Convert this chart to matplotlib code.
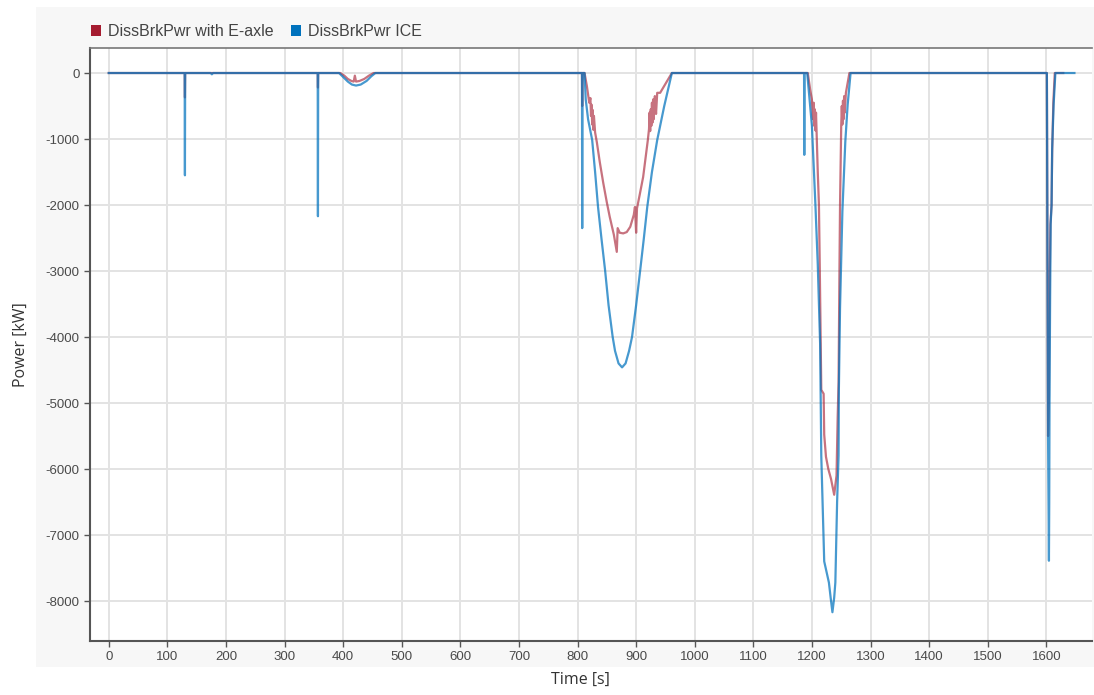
import matplotlib.pyplot as plt
from matplotlib.patches import Patch, Rectangle
from matplotlib.ticker import FuncFormatter

# Dissipated braking power, E-axle variant (time [s], power [kW])
eaxle_t = [0, 129.6, 130, 130.4, 356.6, 357, 357.4,
           395, 402, 408, 414, 418, 420, 422, 428, 436, 444, 452,
           807.6, 808, 808.4,
           812, 816, 820, 822, 823, 824, 825, 826, 827, 828, 830, 833, 838, 844, 850, 855, 862, 867,
           868.5, 872, 878, 884, 890, 896, 898, 900, 901.5, 906, 912, 920,
           922, 923, 924, 925, 926, 927, 928, 929, 930, 932, 934, 936, 941, 951, 961,
           1193, 1197, 1200, 1202, 1203, 1204, 1205, 1206, 1207, 1208, 1210, 1212, 1213.5,
           1216, 1220, 1221, 1224, 1228, 1232.6, 1238, 1242, 1244, 1245.5, 1247, 1248,
           1249.5, 1250, 1251, 1252, 1253, 1254, 1255, 1256, 1258, 1264,
           1601, 1603, 1604.5, 1605.5, 1607, 1609, 1610, 1612, 1614.5, 1629]
eaxle_p = [0, 0, -370, 0, 0, -220, 0,
           0, -40, -90, -120, -130, -40, -130, -120, -90, -40, 0,
           0, -500, 0,
           0, -200, -450, -380, -650, -480, -780, -560, -860, -650, -900, -1050, -1350, -1670, -1960, -2180, -2450, -2710,
           -2350, -2420, -2430, -2410, -2330, -2150, -2030, -2420, -2050, -1850, -1575, -1015,
           -850, -600, -880, -550, -800, -450, -750, -400, -700, -350, -620, -300, -300, -150, 0,
           0, -250, -400, -700, -450, -800, -550, -870, -600, -900, -1500, -2000, -3000,
           -4800, -4860, -5480, -5815, -6000, -6150, -6390, -6100, -5200, -4690, -3000, -2000,
           -1100, -800, -500, -780, -420, -700, -350, -600, -300, 0,
           0, -5500, -4900, -3400, -2300, -2000, -1200, -450, 0, 0]

# Dissipated braking power, ICE variant
ice_t = [0, 129.6, 130, 130.4, 174, 176, 178, 356.6, 357, 357.4,
         393, 400, 408, 415, 422, 430, 440, 448, 455,
         807.6, 808, 808.4,
         812, 814, 818, 825, 830, 835, 841, 847, 853, 860, 864, 870, 876, 882, 888, 893,
         900, 907, 913, 919, 927, 936, 948, 961,
         1186.6, 1187, 1187.4,
         1192, 1196, 1200, 1206, 1210, 1214, 1216, 1218.5, 1221, 1226, 1229, 1232, 1235,
         1238, 1240, 1243, 1245.5, 1246, 1248, 1252, 1257, 1261, 1266,
         1601, 1603, 1604.5, 1605, 1605.5, 1606.5, 1607.5, 1609, 1610, 1612.5, 1615.5, 1648]
ice_p = [0, 0, -1550, 0, 0, -20, 0, 0, -2170, 0,
         0, -60, -130, -175, -190, -175, -120, -50, 0,
         0, -2350, 0,
         0, -400, -700, -1015, -1500, -2030, -2520, -2985, -3520, -4000, -4210, -4400, -4460, -4400, -4210, -4000,
         -3520, -2985, -2520, -2030, -1500, -1015, -500, 0,
         0, -1240, 0,
         0, -400, -800, -2000, -2900, -4100, -5800, -6600, -7400, -7600, -7720, -7950, -8170,
         -7950, -7720, -6500, -5800, -4800, -3560, -2100, -1040, -480, 0,
         0, -5500, -7390, -6500, -5000, -3450, -2280, -2000, -1150, -480, 0, 0]

series_names = ["DissBrkPwr with E-axle", "DissBrkPwr ICE"]
series_colors = ["#a51c30", "#0072bd"]

x_ticks = list(range(0, 1700, 100))
y_ticks = list(range(-8000, 1, 1000))

fig = plt.figure(figsize=(10.94, 6.95), dpi=100)
# light grey panel behind the chart area
fig.patches.append(Rectangle((36 / 1094, 1 - 667 / 695), 1 - 36 / 1094, 660 / 695,
                             transform=fig.transFigure, facecolor="#f7f7f7",
                             edgecolor="none", zorder=-5))

ax = fig.add_axes([90 / 1094, 1 - 641 / 695, 1002 / 1094, 593 / 695])
ax.set_zorder(1)
ax.set_facecolor("white")

ax.plot(eaxle_t, eaxle_p, color=series_colors[0], alpha=0.62, lw=1.6, zorder=3)
ax.plot(ice_t, ice_p, color=series_colors[1], alpha=0.72, lw=1.6, zorder=4)

ax.set_xlim(-32, 1678)
ax.set_ylim(-8606, 379)
ax.set_xticks(x_ticks)
ax.set_yticks(y_ticks)
ax.yaxis.set_major_formatter(FuncFormatter(lambda v, p: "%d" % v))
ax.grid(True, color="#e3e3e3", lw=1.4, zorder=0)
ax.set_axisbelow(True)

for side in ("left", "bottom"):
    ax.spines[side].set_color("#555555")
    ax.spines[side].set_linewidth(1.5)
ax.spines["top"].set_color("#777777")
ax.spines["top"].set_linewidth(1.2)
ax.spines["right"].set_visible(False)

ax.tick_params(axis="both", length=4, width=1, color="#555555",
               labelsize=9.5, labelcolor="#4a4a4a")
for lbl in ax.get_xticklabels() + ax.get_yticklabels():
    lbl.set_family("Liberation Sans")

ax.set_xlabel("Time [s]", family="Open Sans", fontsize=11.5, color="#333333")
ax.set_ylabel("Power [kW]", family="Open Sans", fontsize=11.5, color="#333333")
ax.xaxis.set_label_coords(490 / 1002, -0.052)
ax.yaxis.set_label_coords(-61 / 1002, 0.5)

handles = [Patch(facecolor=c, edgecolor="none", label=n)
           for c, n in zip(series_colors, series_names)]
ax.legend(handles=handles, loc="lower left", bbox_to_anchor=(-0.008, 1.0),
          ncol=2, frameon=False, handlelength=0.65, handleheight=0.65,
          handletextpad=0.4, columnspacing=1.1, borderaxespad=0.15,
          prop={"family": "Liberation Sans", "size": 11.5}, labelcolor="#444444")

fig.savefig("out.png", dpi=100)
